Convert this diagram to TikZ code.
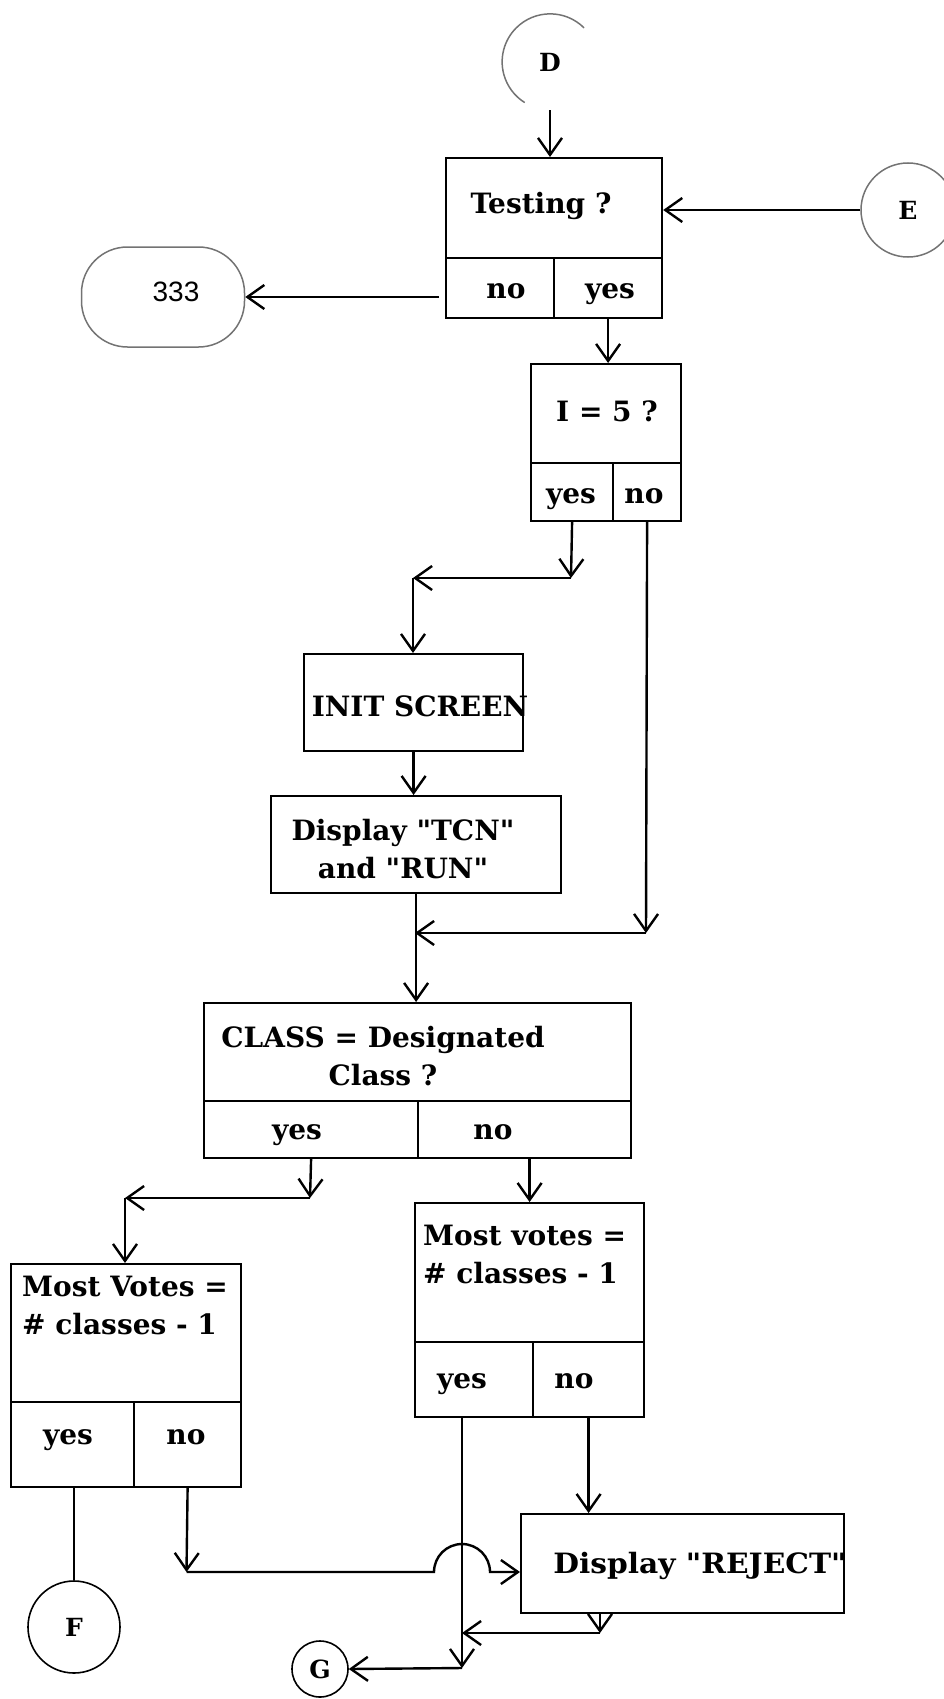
\documentclass[tikz,border=0pt]{standalone}
\usepackage{fontspec}
\newfontfamily\dv{DejaVu Serif}
\newfontfamily\numfont{Liberation Sans}
\usetikzlibrary{arrows.meta}
\begin{document}
\begin{tikzpicture}[x=1pt,y=1pt,
  box/.style={draw, line width=2.2pt, rectangle, inner sep=0pt, anchor=north west},
  lbl/.style={font=\dv\fontsize{28}{38}\selectfont\bfseries, inner sep=0pt},
  one/.style={lbl, text height=21pt, text depth=7pt},
  clbl/.style={font=\dv\fontsize{25}{28}\selectfont\bfseries, inner sep=0pt},
  con/.style={line width=2.4pt, -{Straight Barb[length=17pt,width=24pt]}},
  ln/.style={line width=2.4pt},
  faint/.style={draw=black!55, line width=1.5pt},
]
\useasboundingbox (0,0) rectangle (943,-1699);

% off-page connector circles and terminal
\node[circle, minimum size=96pt, inner sep=0pt, clbl] (D) at (550,-62) {D};
\draw[faint] (D.45) arc[start angle=45, end angle=238, radius=48pt];
\node[circle, faint, minimum size=94pt, inner sep=0pt, clbl] (E) at (908,-210) {E};
\node[rectangle, rounded corners=46pt, faint, minimum width=163pt, minimum height=100pt, inner sep=0pt] (T333) at (163,-297) {};
\node[font=\numfont\fontsize{28}{30}\selectfont, inner sep=0pt] (t333) at (176,-292) {333};
\node[circle, draw, line width=1.6pt, minimum size=92pt, inner sep=0pt, clbl] (F) at (74,-1627) {F};
\node[circle, draw, line width=1.6pt, minimum size=56pt, inner sep=0pt, clbl] (G) at (320,-1669) {G};

% Testing?
\node[box, minimum width=216pt, minimum height=100pt] (test) at (445,-157) {};
\node[box, minimum width=108pt, minimum height=60pt] (testno) at (445,-257) {};
\node[box, minimum width=108pt, minimum height=60pt] (testyes) at (553,-257) {};
\node[one] (ttest) at (541,-207) {Testing ?};
\node[one] (ttestno) at (506,-291) {no};
\node[one] (ttestyes) at (610,-291) {yes};

% I = 5?
\node[box, minimum width=150pt, minimum height=99pt] (I5) at (530,-363) {};
\node[box, minimum width=82pt, minimum height=58pt] (i5yes) at (530,-462) {};
\node[box, minimum width=68pt, minimum height=58pt] (i5no) at (612,-462) {};
\node[one] (ti5) at (607,-414) {I = 5 ?};
\node[one] (ti5yes) at (571,-496) {yes};
\node[one] (ti5no) at (644,-496) {no};

% INIT SCREEN
\node[box, minimum width=219pt, minimum height=97pt] (INIT) at (303,-653) {};
\node[one] (tinit) at (420,-709) {INIT SCREEN};

% Display TCN
\node[box, minimum width=290pt, minimum height=97pt] (TCN) at (270,-795) {};
\node[lbl, align=center] (ttcn) at (403,-849) {Display "TCN"\\and "RUN"};

% CLASS
\node[box, minimum width=427pt, minimum height=98pt] (CLASS) at (203,-1002) {};
\node[box, minimum width=214pt, minimum height=57pt] (clyes) at (203,-1100) {};
\node[box, minimum width=213pt, minimum height=57pt] (clno) at (417,-1100) {};
\node[lbl, align=center] (tclass) at (383,-1056) {CLASS = Designated\\Class ?};
\node[one] (tclyes) at (297,-1132) {yes};
\node[one] (tclno) at (493,-1132) {no};

% left Most Votes
\node[box, minimum width=230pt, minimum height=138pt] (LV) at (10,-1263) {};
\node[box, minimum width=123pt, minimum height=85pt] (lvyes) at (10,-1401) {};
\node[box, minimum width=107pt, minimum height=85pt] (lvno) at (133,-1401) {};
\node[lbl, anchor=west, align=left] (tlv) at (22,-1305) {Most Votes =\\\# classes - 1};
\node[one] (tlvyes) at (68,-1437) {yes};
\node[one] (tlvno) at (186,-1437) {no};

% right Most votes
\node[box, minimum width=229pt, minimum height=139pt] (RV) at (414,-1202) {};
\node[box, minimum width=118pt, minimum height=75pt] (rvyes) at (414,-1341) {};
\node[box, minimum width=111pt, minimum height=75pt] (rvno) at (532,-1341) {};
\node[lbl, anchor=west, align=left] (trv) at (423,-1254) {Most votes =\\\# classes - 1};
\node[one] (trvyes) at (462,-1381) {yes};
\node[one] (trvno) at (574,-1381) {no};

% Display REJECT
\node[box, minimum width=323pt, minimum height=99pt] (REJ) at (520,-1513) {};
\node[one] (trej) at (700,-1566) {\scalebox{1.06}[1]{Display "REJECT"}};

% bend points
\coordinate (c1) at (571,-578);
\coordinate (c2) at (413,-578);
\coordinate (c3) at (646,-933);
\coordinate (c4) at (415,-933);
\coordinate (c5) at (310,-1198);
\coordinate (c6) at (125,-1198);
\coordinate (c7) at (186.5,-1572);
\coordinate (j1) at (434,-1572);
\coordinate (c8) at (462,-1668);
\coordinate (c9) at (600,-1633);

% connectors
\draw[con] (D.south) -- (D.south |- test.north);
\draw[con] (E.west) -- (E.west -| test.east);
\draw[con] ([xshift=-6pt]testno.west |- T333.east) -- (T333.east);
\draw[con] (testyes.south) -- (testyes.south |- I5.north);
\draw[con] (i5yes.south) -- (c1);
\draw[con] (c1) -- (c2);
\draw[con] (c2) -- (c2 |- INIT.north);
\draw[con] (INIT.south) -- (INIT.south |- TCN.north);
\draw[con] (i5no.south) -- (c3);
\draw[con] (c3) -- (c4);
\draw[con] (TCN.south) -- (TCN.south |- CLASS.north);
\draw[con] (clyes.south) -- (c5);
\draw[con] (c5) -- (c6);
\draw[con] (c6) -- (c6 |- LV.north);
\draw[con] (clno.south -| RV.north) -- (RV.north);
\draw[ln] (F.north |- lvyes.south) -- (F.north);
\draw[con] (lvno.south) -- (c7);
\draw[con] (c7) -- (j1) arc[start angle=180, end angle=0, radius=28pt] -- (c7 -| REJ.west);
\draw[con] (c8 |- rvyes.south) -- (c8);
\draw[con] (c8) -- (G.east);
\draw[con] (rvno.south) -- (rvno.south |- REJ.north);
\draw[con] (REJ.south -| c9) -- (c9);
\draw[con] (c9) -- (c9 -| c8);
\end{tikzpicture}
\end{document}
